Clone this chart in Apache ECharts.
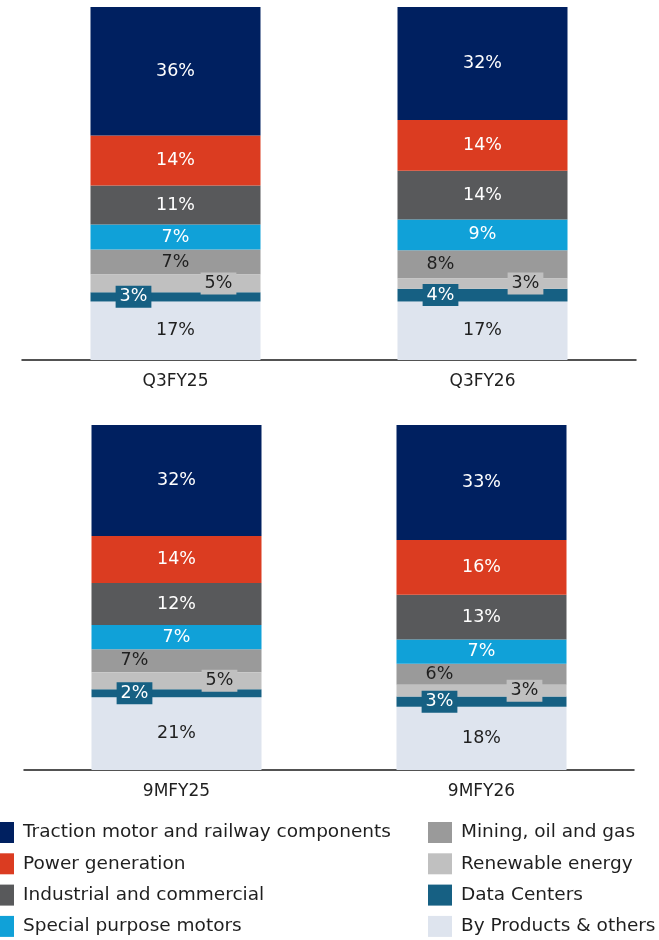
<!DOCTYPE html>
<html>
<head>
<meta charset="utf-8">
<script src="https://cdn.jsdelivr.net/npm/echarts@6/dist/echarts.min.js"></script>
<style>
  html, body { margin: 0; padding: 0; background: #fff; }
  #chart { width: 659px; height: 940px; }
</style>
</head>
<body>
<div id="chart"></div>
<script>
// Segment share by period (%). SEGMENTS runs top of bar -> bottom of bar.
const SEGMENTS = [
  'Traction motor and railway components',
  'Power generation',
  'Industrial and commercial',
  'Special purpose motors',
  'Mining, oil and gas',
  'Renewable energy',
  'Data Centers',
  'By Products & others',
];
const TOP_PERIODS = ['Q3FY25', 'Q3FY26'];
const BOTTOM_PERIODS = ['9MFY25', '9MFY26'];

// values per segment: [first period, second period]
const traction = { top: [36.4, 32.0], bottom: [32.2, 33.3] };
const power = { top: [14.2, 14.4], bottom: [13.6, 15.9] };
const industrial = { top: [11.0, 13.8], bottom: [12.2, 13.0] };
const special = { top: [7.1, 8.7], bottom: [7.0, 7.0] };
const mining = { top: [7.1, 8.0], bottom: [6.7, 6.1] };
const renewable = { top: [5.0, 2.9], bottom: [4.9, 3.4] };
const dataCenters = { top: [2.6, 3.6], bottom: [2.3, 3.0] };
const byProducts = { top: [16.6, 16.6], bottom: [21.1, 18.3] };

const SERIES_VALUES = [traction, power, industrial, special, mining, renewable, dataCenters, byProducts];
const COLORS = ['#002060', '#DB3C21', '#58595B', '#10A1D8', '#9A9A9A', '#C0C0C0', '#166083', '#DEE4EE'];

const FONT = 'DejaVu Sans';
const DARK = '#1f1f1f';

// label style per segment (index into SEGMENTS)
function labelFor(segIdx) {
  const base = {
    show: true,
    fontFamily: FONT,
    fontSize: 17.5,
    formatter: (p) => Math.round(p.value) + '%',
  };
  if (segIdx <= 3) return { ...base, color: '#fff' };
  if (segIdx === 5) {
    return {
      ...base, color: DARK, backgroundColor: '#C0C0C0',
      padding: [3, 4, 1, 4], offset: [43, 0],
    };
  }
  if (segIdx === 6) {
    return {
      ...base, color: '#fff', backgroundColor: '#166083',
      padding: [3, 4, 1, 4], offset: [-42, 0],
    };
  }
  return { ...base, color: DARK };
}

const series = [];
['top', 'bottom'].forEach((grid, gi) => {
  SEGMENTS.forEach((name, si) => {
    const vals = SERIES_VALUES[si][grid];
    let data = vals.map((v) => ({ value: v }));
    if (si === 4) {
      // mining label sits left of centre except in the first top bar
      data = vals.map((v, ci) => {
        const shiftLeft = !(grid === 'top' && ci === 0);
        return { value: v, label: { offset: [shiftLeft ? -42 : 0, 0] } };
      });
    }
    series.push({
      name,
      type: 'bar',
      stack: grid,
      xAxisIndex: gi,
      yAxisIndex: gi,
      barWidth: 170,
      itemStyle: { color: COLORS[si] },
      label: labelFor(si),
      emphasis: { disabled: true },
      data,
      z: si === 5 || si === 6 ? 3 : 2,
    });
  });
});
// stacks build from the first series up, so reverse each grid's list
const ordered = [];
[0, 1].forEach((gi) => {
  ordered.push(...series.filter((s) => s.xAxisIndex === gi).reverse());
});

const axisCommon = {
  type: 'category',
  axisLine: { lineStyle: { color: '#1a1a1a', width: 1.5 } },
  axisTick: { show: false },
  axisLabel: { color: DARK, fontFamily: FONT, fontSize: 17, margin: 13 },
};
const yCommon = { type: 'value', min: 0, max: 100, show: false };

const legendCommon = {
  orient: 'vertical', top: 822, padding: 0,
  itemWidth: 24, itemHeight: 21, itemGap: 10.3,
  icon: 'rect', selectedMode: false,
  textStyle: { color: DARK, fontFamily: FONT, fontSize: 18.5, padding: [0, 0, 0, 4] },
};

const chart = echarts.init(document.getElementById('chart'));
chart.setOption({
  animation: false,
  backgroundColor: '#fff',
  grid: [
    { left: 22, right: 23, top: 7, height: 353 },
    { left: 24, right: 25, top: 425, height: 345 },
  ],
  xAxis: [
    { ...axisCommon, gridIndex: 0, data: TOP_PERIODS },
    { ...axisCommon, gridIndex: 1, data: BOTTOM_PERIODS },
  ],
  yAxis: [
    { ...yCommon, gridIndex: 0 },
    { ...yCommon, gridIndex: 1 },
  ],
  legend: [
    { ...legendCommon, data: SEGMENTS.slice(0, 4), left: -10, height: 130 },
    { ...legendCommon, data: SEGMENTS.slice(4), left: 428, height: 130 },
  ],
  series: ordered,
});
</script>
</body>
</html>
